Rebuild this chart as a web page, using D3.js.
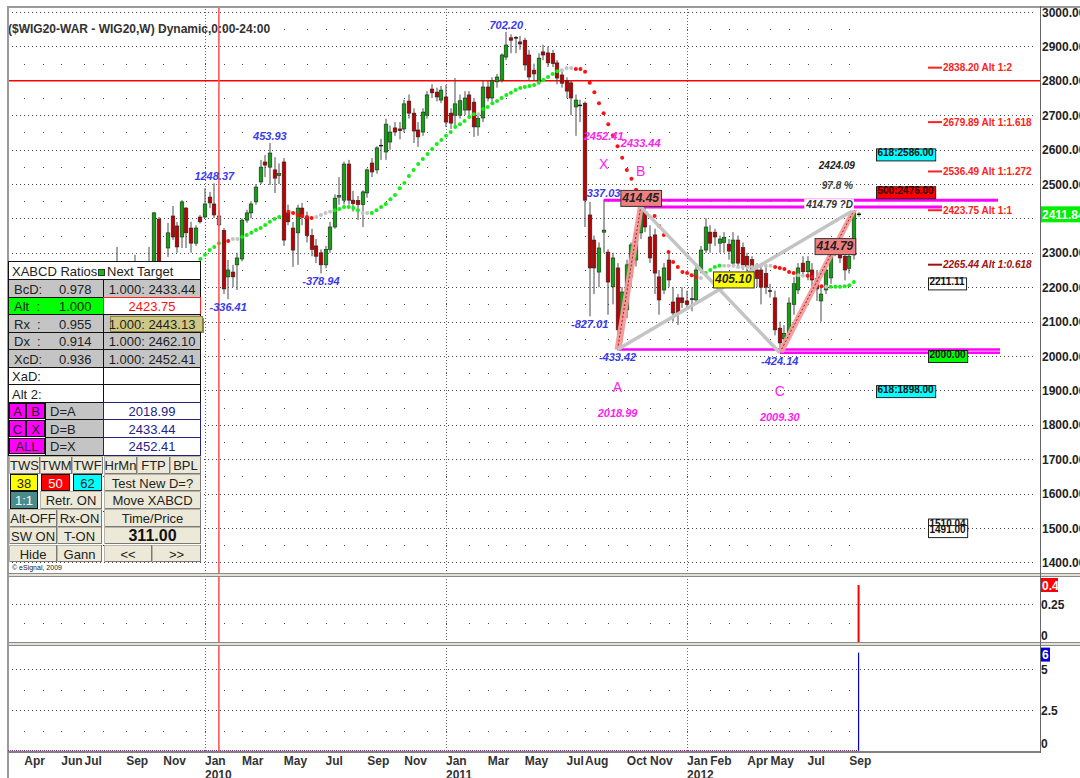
<!DOCTYPE html>
<html>
<head>
<meta charset="utf-8">
<script src="https://cdn.jsdelivr.net/npm/d3@7/dist/d3.min.js"></script>
<style>
html,body{margin:0;padding:0;background:#fff;overflow:hidden}
svg{display:block}
text{font-family:"Liberation Sans",Arial,Helvetica,sans-serif}
</style>
</head>
<body>
<svg id="c" width="1080" height="778"></svg>
<script>
// ---------------- DATA ----------------
const titleText = "($WIG20-WAR - WIG20,W) Dynamic,0:00-24:00";
const firstWeek = "2009-03-30"; // Monday of first weekly bar
const opens = [
1540,1600,1680,1650,1740,1770,1830,1780,1820,1870,
1830,1790,1760,1780,1750,1790,1890,1980,2020,2080,
2120,2180,2250,2180,2240,2230,2255,2200,2250,2260,
2398,2265,2314,2407,2378,2346,2430,2372,2328,2404,
2404,2462,2442,2407,2365,2230,2244,2265,2282,2395,
2416,2448,2506,2564,2549,2541,2525,2564,2416,2372,
2358,2430,2404,2350,2320,2300,2265,2310,2375,2462,
2453,2558,2453,2452,2440,2474,2561,2541,2610,2593,
2622,2663,2660,2660,2741,2706,2657,2651,2700,2776,
2767,2744,2753,2706,2700,2700,2715,2759,2738,2666,
2692,2782,2750,2797,2802,2869,2925,2926,2913,2918,
2875,2831,2797,2884,2881,2880,2852,2817,2800,2794,
2724,2730,2735,2410,2337,2244,2360,2302,2201,2256,
2113,2134,2230,2279,2358,2419,2346,2352,2230,2192,
2279,2157,2169,2169,2160,2165,2163,2250,2308,2360,
2360,2328,2330,2325,2270,2337,2315,2290,2280,2250,
2250,2240,2190,2169,2081,2050,2067,2150,2192,2270,
2245,2250,2225,2160,2192,2227,2317,2300,2290,2255,2294,2412];
const highs = [
1620,1700,1720,1760,1790,1850,1860,1840,1890,1900,
1850,1830,1800,1830,1800,1900,1990,2040,2100,2150,
2200,2317,2265,2260,2270,2294,2270,2265,2317,2419,
2404,2271,2387,2436,2390,2453,2433,2390,2380,2410,
2488,2477,2501.61,2425,2372,2279,2265,2300,2400,2425,
2450,2500,2570,2584,2619.13,2578,2560,2575,2440,2390,
2440,2445,2420,2370,2340,2310,2320,2390,2470,2520,
2565,2570,2480,2465,2482,2545,2575,2610,2631,2690,
2670,2680,2680,2745,2760,2720,2680,2720,2770,2790,
2780,2785,2788,2720,2808,2760,2770,2770,2750,2700,
2800,2800,2810,2820,2880,2942.39,2935,2930,2930,2925,
2890,2850,2880,2905,2900,2890,2860,2830,2810,2800,
2760,2745,2740,2448,2350,2330,2452.41,2310,2300,2270,
2200,2280,2330,2370,2433.44,2430,2380,2370,2250,2270,
2300,2200,2180,2200,2190,2200,2270,2320,2400,2380,
2370,2350,2360,2340,2360,2350,2330,2300,2290,2270,
2260,2260,2210,2190,2100,2090,2170,2230,2270,2290,
2290,2270,2250,2200,2260,2330,2330,2320,2300,2300,2424.09,2418];
const lows = [
1500,1580,1620,1640,1700,1750,1760,1740,1800,1810,
1760,1730,1700,1740,1720,1780,1870,1950,2000,2040,
2090,2160,2150,2120,2190,2200,2180,2170,2230,2250,
2260,2200,2288,2337,2300,2314,2314,2300,2320,2385,
2401,2430,2401,2372,2180,2165.2,2200,2192,2275,2387,
2400,2440,2500,2520,2497,2474,2500,2320,2380,2259,
2265,2380,2330,2290,2270,2240.19,2255,2300,2370,2440,
2440,2440,2420,2395,2375,2460,2520,2530,2570,2570,
2600,2640,2630,2650,2690,2619,2608,2640,2690,2750,
2740,2735,2666,2660,2666,2690,2700,2700,2637,2640,
2680,2740,2740,2780,2795,2860,2880,2880,2890,2830,
2800,2800,2790,2860,2840,2840,2790,2780,2750,2700,
2640,2680,2375,2115.38,2180,2200,2300,2120,2150,2018.99,
2040,2110,2200,2260,2340,2360,2270,2180,2120,2180,
2200,2100,2090,2140,2140,2130,2150,2240,2300,2300,
2320,2300,2300,2280,2260,2260,2250,2230,2220,2200,
2150,2180,2170,2060,2009.30,2020,2050,2120,2180,2230,
2220,2200,2160,2100,2180,2210,2290,2270,2220,2240,2280,2405];
const closes = [
1600,1680,1650,1740,1770,1830,1780,1820,1870,1830,
1790,1760,1780,1750,1790,1890,1980,2020,2080,2120,
2180,2250,2180,2240,2230,2255,2200,2250,2260,2416,
2268,2255,2358,2346,2317,2448,2358,2328,2372,2390,
2442,2445,2410,2381,2195,2250,2230,2285,2395,2416,
2442,2491,2549,2555,2590,2517,2530,2337,2390,2308,
2430,2404,2350,2310,2290,2265,2310,2375,2459,2466,
2558,2453,2443,2440,2477,2541,2535,2605,2613,2674,
2651,2651,2655,2733,2706,2654,2637,2709,2759,2765,
2753,2773,2680,2677,2733,2742,2750,2715,2666,2690,
2782,2750,2800,2811,2875,2904,2918,2924,2907,2846,
2811,2820,2866,2875,2852,2850,2808,2793,2770,2750,
2744,2727,2453,2256,2256,2314,2366,2215,2285,2076,
2186,2265,2323,2360,2419,2375,2285,2241,2163,2256,
2221,2125,2125,2155,2150,2166,2250,2308,2375,2328,
2346,2340,2345,2305,2337,2270,2265,2260,2245,2225,
2200,2200,2188,2076,2038,2066,2154,2210,2256,2245,
2275,2221,2195,2180,2250,2317,2300,2285,2250,2290,2416,2411.84];
const selectedWeek = "2010-01-25";

// trailing-stop dots (weekly, starting sarFirstWeek); state: g=green, r=red, n=neutral(gray), -=none
const sarFirstWeek = "2009-12-28";
const sarValues = [
2282,2294,2308,2317,2328,null,2334,2340,2340,2346,
2352,2358,2366,2372,2381,2390,2398,2404,null,2419,
2416,2410,2407,2404,2401,2404,2410,2416,2419,2424,
2427,2433,2433,2430,2424,2416,2416,2416,2424,2433,
2442,2456,2468,2488,2503,2523,2541,2558,2573,2587,
2602,2616,2628,2640,2651,2666,2674,2683,2695,2703,
2703,2718,2724,2735,2741,2750,2759,2765,2773,2779,
2782,2785,2788,2794,2802,2811,2820,2828,2831,2837,
2837,2834,2834,2826,2794,2767,2735,2706,2674,2642,
2610,2576,2541,2515,2483,null,null,null,2407,2378,
2352,2302,2273,2259,2244,2241,2235,2230,2227,2241,
2250,2259,2262,2262,2262,2262,2259,2259,2259,2259,
2262,2262,2262,2262,2259,2256,2253,2244,2241,2235,
2233,2233,2230,2218,2203,2201,2201,2201,2201,2203,2206,2215];
const sarStates = (
"ggggg-rnng"+"gggggggg-r"+"rrrrrnnnng"+"gggggnnggg"+"gggggggggg"+
"gggggggggg"+"nggggggggg"+"ggggggggnn"+"nrrrrrrrrr"+"rrrrr---rr"+
"rrrrrrrrng"+"gggnnnnnnn"+"nnnnrrrrrn"+"nrrrrngggggg").split("");

// swing annotations
const swingDates  = ["2010-01-18","2010-02-08","2010-04-12","2010-06-28","2011-04-04","2011-08-08","2011-08-29","2011-09-19","2012-05-21"];
const swingPrices = [2501.61,2165.20,2619.13,2240.19,2942.39,2115.38,2452.41,2018.99,2009.30];
const swingTexts  = ["1248.37","-336.41","453.93","-378.94","702.20","-827.01","337.03","-433.42","-424.14"];

// XABCD pattern
const patternNames  = ["X","A","B","C","D"];
const patternDates  = ["2011-08-29","2011-09-19","2011-10-24","2012-05-21","2012-09-10"];
const patternPrices = [2452.41,2018.99,2433.44,2009.30,2424.09];
const bcdPercent = "97.8 %";

// Alt targets
const altValues = [2838.20,2679.89,2536.49,2423.75,2265.44];
const altRatios = ["1:2","1:1.618","1:1.272","1:1","1:0.618"];

// level boxes
const levelValues = [2586,2476,2211.11,2000,1898,1510.04,1491];
const levelTexts  = ["618:2586.00","500:2476.00","2211.11","2000.00","618:1898.00","1510.04","1491.00"];
const levelFills  = ["#00ffff","#ff0000","#ffffff","#00ff00","#00ffff","#ffffff","#ffffff"];
const levelLeft   = [876,876,928,928,876,928,928];

const redLevels = [2800];
const priceTicks = [3000,2900,2800,2700,2600,2500,2400,2300,2200,2100,2000,1900,1800,1700,1600,1500,1400];
const priceMinor = [2950,2850,2750,2650,2550,2450,2350,2250,2150,2050,1950,1850,1750,1650,1550,1450];
const monthTicks = ["2009-04","2009-06","2009-07","2009-09","2009-11","2010-01","2010-03","2010-05","2010-07","2010-09","2010-11",
 "2011-01","2011-03","2011-05","2011-07","2011-08","2011-10","2011-11","2012-01","2012-02","2012-04","2012-05","2012-07","2012-09"];
const gridYears = [2010,2011,2012];

// lower indicator panels
const ind1Date = "2012-09-17", ind1Value = 0.4;
const ind2Date = "2012-09-17", ind2Value = 6;
const ind1Ticks = [0.25,0], ind1Minor = [0.1];
const ind2Ticks = [5,2.5,0], ind2Minor = [3.75,1.25];

// side table
const ratioNames  = ["BcD:","Alt  :","Rx  :","Dx  :","XcD:"];
const ratioValues = ["0.978","1.000","0.955","0.914","0.936"];
const ratioTargets= ["1.000: 2433.44","2423.75","1.000: 2443.13","1.000: 2462.10","1.000: 2452.41"];
const dRows = [["A","B","D=A","2018.99"],["C","X","D=B","2433.44"],["ALL",null,"D=X","2452.41"]];

// ---------------- SETUP ----------------
const svg = d3.select("#c");
const parse = d3.utcParse("%Y-%m-%d");
const t0 = parse(firstWeek);
const barDate = i => d3.utcMonday.offset(t0, i);
const L = 8, R = 1040, TOP = 6;
const x = d3.scaleUtc().domain([new Date(Date.UTC(2009,2,12,12)), new Date(Date.UTC(2013,5,18))]).range([L, R]);
const y = d3.scaleLinear().domain([1400,3000]).range([562.4,12]);
const y2 = d3.scaleLinear().domain([0,0.4]).range([635.7,585]);
const y3 = d3.scaleLinear().domain([0,6]).range([751,652.6]);
const cr = v => Math.round(v) + 0.5;

function T(g, px, py, s, o = {}) {
  return g.append("text").attr("x", px).attr("y", py).text(s)
    .attr("font-size", o.size || 12).attr("font-weight", o.weight || "normal")
    .attr("font-style", o.style || "normal").attr("fill", o.fill || "#222")
    .attr("text-anchor", o.anchor || "start").style("white-space", "pre");
}

svg.append("rect").attr("width",1080).attr("height",778).attr("fill","#fff");
svg.append("defs").append("clipPath").attr("id","mainclip").append("rect")
  .attr("x",L).attr("y",TOP).attr("width",R-L).attr("height",573-TOP);

// ---------------- GRID ----------------
const grid = svg.append("g").attr("shape-rendering","crispEdges");
const monthStarts = d3.utcMonth.range(parse("2009-04-01"), parse("2012-10-01")).map(m => d3.utcMonday.ceil(m));
function denseH(vals, sc) {
  grid.selectAll(null).data(vals).join("line")
    .attr("x1",L).attr("x2",1033).attr("y1",d=>cr(sc(d))).attr("y2",d=>cr(sc(d)))
    .attr("stroke","#444").attr("stroke-dasharray","1,3");
}
function sparseH(vals, sc) {
  vals.forEach(v => grid.selectAll(null).data(monthStarts).join("rect")
    .attr("x",d=>Math.round(x(d))).attr("y",Math.round(sc(v))).attr("width",1).attr("height",1).attr("fill","#444"));
}
denseH(priceTicks.filter(v => !redLevels.includes(v)), y); sparseH(priceMinor, y);
denseH([0.25], y2); sparseH(ind1Minor, y2);
denseH([5,2.5], y3); sparseH(ind2Minor, y3);
const yearStarts = gridYears.map(yr => d3.utcMonday.ceil(new Date(Date.UTC(yr,0,1))));
grid.selectAll(null).data(yearStarts).join("line")
  .attr("x1",d=>cr(x(d))).attr("x2",d=>cr(x(d))).attr("y1",TOP).attr("y2",753)
  .attr("stroke","#666").attr("stroke-dasharray","1,2");

// red level line
svg.selectAll(null).data(redLevels).join("line")
  .attr("x1",L).attr("x2",R).attr("y1",d=>y(d)).attr("y2",d=>y(d))
  .attr("stroke","#ff0000").attr("stroke-width",1.4);

// ---------------- CANDLES ----------------
const bars = opens.map((o,i) => ({d: barDate(i), o, h: highs[i], l: lows[i], c: closes[i]}));
const main = svg.append("g").attr("clip-path","url(#mainclip)");
const selD = parse(selectedWeek);
const cg = main.append("g");
cg.selectAll("line.w").data(bars).join("line").attr("class","w")
  .attr("x1",d=>cr(x(d.d))-0.5).attr("x2",d=>cr(x(d.d))-0.5)
  .attr("y1",d=>y(d.h)).attr("y2",d=>y(d.l))
  .attr("stroke",d=> +d.d === +selD ? "#30d8ff" : "#4a4a4a").attr("stroke-width",1);
cg.selectAll("rect.b").data(bars.filter(d=>Math.abs(y(d.o)-y(d.c))>=1.2)).join("rect").attr("class","b")
  .attr("x",d=>Math.round(x(d.d))-1.8).attr("width",3.6)
  .attr("y",d=>y(Math.max(d.o,d.c))).attr("height",d=>Math.abs(y(d.o)-y(d.c)))
  .attr("fill",d=> +d.d === +selD ? "#a8a8a8" : (d.c>=d.o ? "#13a013" : "#c00000"))
  .attr("stroke","#222").attr("stroke-width",0.6);
cg.selectAll("line.dj").data(bars.filter(d=>Math.abs(y(d.o)-y(d.c))<1.2)).join("line").attr("class","dj")
  .attr("x1",d=>Math.round(x(d.d))-2).attr("x2",d=>Math.round(x(d.d))+2)
  .attr("y1",d=>y((d.o+d.c)/2)).attr("y2",d=>y((d.o+d.c)/2)).attr("stroke","#111").attr("stroke-width",1.4);

// red vertical marker across all panels
svg.append("line").attr("x1",x(selD)).attr("x2",x(selD)).attr("y1",TOP).attr("y2",752)
  .attr("stroke","#ff5555").attr("stroke-width",1.6);

// ---------------- TRAILING DOTS ----------------
const sT0 = parse(sarFirstWeek);
const sar = sarValues.map((v,i)=>({d: d3.utcMonday.offset(sT0,i), v, s: sarStates[i]})).filter(p=>p.v!=null && p.s!=="-");
const sarColor = {g:"#14ee14", r:"#ff1010", n:"#c4c4c4"};
main.append("g").selectAll("circle").data(sar).join("circle")
  .attr("cx",d=>x(d.d)).attr("cy",d=>y(d.v)).attr("r",2).attr("fill",d=>sarColor[d.s]);

// ---------------- PATTERN ----------------
const P = patternNames.map((n,i)=>({n, d: parse(patternDates[i]), v: patternPrices[i]}));
P.forEach(p => { p.x = x(p.d); p.y = y(p.v); });
const [PX,PA,PB,PC,PD] = P;
const pat = main.append("g");
const magLines = [[PX, 998, 3],[PB, 942, 3],[PA, 1000, 2.5],[PC, 1000, 2.5]];
magLines.forEach(([p,x2,w]) => pat.append("line").attr("x1",p.x).attr("x2",x2).attr("y1",p.y).attr("y2",p.y)
  .attr("stroke","#ff00ff").attr("stroke-width",w));
[[PA,PB],[PC,PD]].forEach(([a,b]) => {
  pat.append("polygon").attr("points",[[a.x-3,a.y],[a.x+4,a.y],[b.x+3,b.y],[b.x-3,b.y]].map(p=>p.join(",")).join(" "))
    .attr("fill","#f49a9a").attr("opacity",0.95);
  pat.append("line").attr("x1",a.x).attr("y1",a.y).attr("x2",b.x).attr("y2",b.y)
    .attr("stroke","#a02020").attr("stroke-width",1).attr("stroke-dasharray","2,2");
});
[[PB,PC],[PA,PD]].forEach(([a,b]) => pat.append("line").attr("x1",a.x).attr("y1",a.y).attr("x2",b.x).attr("y2",b.y)
  .attr("stroke","#c4c4c4").attr("stroke-width",3.5));

function inter(p1,p2,p3,p4){
  const d=(p1.x-p2.x)*(p3.y-p4.y)-(p1.y-p2.y)*(p3.x-p4.x);
  const a=p1.x*p2.y-p1.y*p2.x, b=p3.x*p4.y-p3.y*p4.x;
  return {x:(a*(p3.x-p4.x)-(p1.x-p2.x)*b)/d, y:(a*(p3.y-p4.y)-(p1.y-p2.y)*b)/d};
}
const I = inter(PA,PD,PB,PC);

function box(g, cx, top, s, fill, o={}) {
  const t = T(g, 0, top + (o.h||16) - 4, s, {size:o.size||12, weight:"bold", style:o.style||"italic", fill:o.color||"#222", anchor:"middle"});
  const w = t.node().getComputedTextLength() + (o.pad||4);
  let left = o.left != null ? o.left : cx - w/2;
  t.attr("x", left + w/2);
  g.insert("rect", () => t.node()).attr("x",left+0.5).attr("y",top+0.5).attr("width",w).attr("height",o.h||16)
    .attr("fill",fill).attr("stroke",o.stroke||"#333").attr("stroke-width",1);
  return t;
}
const ann = svg.append("g");
box(ann, PB.x, PB.y-17, (PB.v-PA.v).toFixed(2), "#f08080");
box(ann, I.x+14, I.y-18, (PD.v-PA.v).toFixed(2), "#ffff00");
box(ann, PD.x-19, PD.y+28, (PD.v-PC.v).toFixed(2), "#f08080");

const dLab = T(ann, PD.x-1, PD.y-2, (PD.v-PC.v).toFixed(2)+" ?D", {size:10, weight:"bold", style:"italic", fill:"#333", anchor:"end"});
const bb = dLab.node().getBBox();
ann.insert("rect", () => dLab.node()).attr("x",bb.x-1).attr("y",bb.y).attr("width",bb.width+2).attr("height",bb.height).attr("fill","#fff");
T(ann, PD.x-1, PD.y-21, bcdPercent, {size:10, weight:"bold", style:"italic", fill:"#444", anchor:"end"});
T(ann, PD.x+1, PD.y-41, PD.v.toFixed(2), {size:10, weight:"bold", style:"italic", fill:"#222", anchor:"end"});

swingDates.forEach((ds,i) => {
  const sx = x(parse(ds)), sy = y(swingPrices[i]);
  const low = swingTexts[i].startsWith("-");
  T(ann, sx, low ? sy+12 : sy-3, swingTexts[i], {size:11, weight:"bold", style:"italic", fill:"#3a3af0", anchor:"middle"});
});

const MAG = "#ff22ee";
[PX,PB].forEach(p => {
  T(ann, p.x, p.y-60, p.v.toFixed(2), {size:11, weight:"bold", style:"italic", fill:MAG, anchor:"middle"});
  T(ann, p.x, p.y-31, p.n, {size:14, fill:MAG, anchor:"middle"});
});
[PA,PC].forEach(p => {
  T(ann, p.x, p.y+43, p.n, {size:14, fill:MAG, anchor:"middle"});
  T(ann, p.x, p.y+68, p.v.toFixed(2), {size:11, weight:"bold", style:"italic", fill:MAG, anchor:"middle"});
});

altValues.forEach((v,i) => {
  const last = i === altValues.length-1;
  const col = last ? "#a01010" : "#ff2020";
  ann.append("line").attr("x1",928).attr("x2",942).attr("y1",y(v)).attr("y2",y(v)).attr("stroke",col).attr("stroke-width",2);
  T(ann, 943, y(v)+3.5, v.toFixed(2)+" Alt "+altRatios[i], {size:10, weight:"bold", style: last?"italic":"normal", fill:col});
});

levelValues.forEach((v,i) => {
  box(ann, 0, y(v)-6, levelTexts[i], levelFills[i], {left:levelLeft[i], size:10, style:"normal", h:12, pad:3, stroke:"#222",
     color: i===1 ? "#300000" : "#111"});
});

T(svg, 8, 33, titleText, {size:12, weight:"bold", fill:"#333"});

// ---------------- FRAMES ----------------
const fr = svg.append("g").attr("shape-rendering","crispEdges");
[[573,577],[642,646]].forEach(([a,b]) => {
  fr.append("rect").attr("x",L).attr("y",a).attr("width",1080-L).attr("height",b-a).attr("fill","#e4e0d4");
  fr.append("line").attr("x1",L).attr("x2",1080).attr("y1",a+0.5).attr("y2",a+0.5).attr("stroke","#8a8a8a").attr("stroke-width",1.5);
  fr.append("line").attr("x1",L).attr("x2",1080).attr("y1",b-0.5).attr("y2",b-0.5).attr("stroke","#8a8a8a");
});
fr.append("line").attr("x1",L).attr("x2",1080).attr("y1",6.5).attr("y2",6.5).attr("stroke","#9a9a9a").attr("stroke-width",2);
fr.append("line").attr("x1",L-0.5).attr("x2",L-0.5).attr("y1",6).attr("y2",778).attr("stroke","#9a9a9a").attr("stroke-width",2);
fr.append("line").attr("x1",L).attr("x2",R+1).attr("y1",752).attr("y2",752).attr("stroke","#808080").attr("stroke-width",2);
fr.append("line").attr("x1",R+0.5).attr("x2",R+0.5).attr("y1",6).attr("y2",753).attr("stroke","#666");

const i1x = x(parse(ind1Date)), i2x = x(parse(ind2Date));
svg.append("line").attr("x1",i1x).attr("x2",i1x).attr("y1",y2(ind1Value)).attr("y2",642).attr("stroke","#ff0000").attr("stroke-width",2);
svg.append("line").attr("x1",i2x).attr("x2",i2x).attr("y1",y3(ind2Value)).attr("y2",751).attr("stroke","#0000cc").attr("stroke-width",1.2);
svg.append("line").attr("x1",L).attr("x2",i2x).attr("y1",750.5).attr("y2",750.5).attr("stroke","#3030ff").attr("stroke-dasharray","1,3");
svg.append("line").attr("x1",L+2).attr("x2",i2x).attr("y1",750.5).attr("y2",750.5).attr("stroke","#ff3030").attr("stroke-dasharray","1,3");

// ---------------- AXES ----------------
const ax = svg.append("g");
const lastPrice = closes[closes.length-1];
priceTicks.filter(v => Math.abs(y(v)-y(lastPrice)) > 12)
  .forEach(v => T(ax, 1042, y(v)+4.5, v.toFixed(2), {size:12, weight:"bold", fill:"#222"}));
ax.append("rect").attr("x",1041).attr("y",y(lastPrice)-8).attr("width",45).attr("height",16).attr("fill","#00ee00");
T(ax, 1042, y(lastPrice)+4.5, lastPrice.toFixed(2), {size:12, weight:"bold", fill:"#fff"});
ax.append("rect").attr("x",1041).attr("y",y2(ind1Value)-7).attr("width",17).attr("height",14).attr("fill","#ff0000");
T(ax, 1042, y2(ind1Value)+4.5, String(ind1Value), {size:12, weight:"bold", fill:"#fff"});
ind1Ticks.forEach(v => T(ax, 1041, y2(v)+4.5, String(v), {size:12, weight:"bold", fill:"#222"}));
ax.append("rect").attr("x",1041).attr("y",y3(ind2Value)-5).attr("width",9).attr("height",14).attr("fill","#0000dd");
T(ax, 1042, y3(ind2Value)+6.5, String(ind2Value), {size:12, weight:"bold", fill:"#fff"});
ind2Ticks.forEach(v => T(ax, 1041, (v===0 ? y3(v)-8 : y3(v))+4.5, String(v), {size:12, weight:"bold", fill:"#222"}));
const fmtM = d3.utcFormat("%b");
monthTicks.forEach(m => {
  const d = d3.utcMonday.ceil(parse(m+"-01"));
  const mo = parse(m+"-01");
  T(ax, x(d), 765, fmtM(mo), {size:12, weight:"bold", fill:"#333"});
  if (mo.getUTCMonth() === 0) T(ax, x(d), 779, String(mo.getUTCFullYear()), {size:12, weight:"bold", fill:"#333"});
});

// ---------------- SIDE TABLE ----------------
const tb = svg.append("g").attr("shape-rendering","crispEdges");
const tx0 = 8.5, tx1 = 200.5, tmid = 103.5;
tb.append("rect").attr("x",tx0).attr("y",261.5).attr("width",tx1-tx0).attr("height",194).attr("fill","#fff").attr("stroke","#111");
T(tb, 12, 276, "XABCD Ratios", {size:13, fill:"#222"});
tb.append("rect").attr("x",98.5).attr("y",269.5).attr("width",6).attr("height",6).attr("fill","#10c010").attr("stroke","#333");
T(tb, 107, 276, "Next Target", {size:13, fill:"#222"});
const rowY = i => 279.5 + i*17.55;
for (let i=0;i<5;i++){
  const ry = rowY(i);
  tb.append("rect").attr("x",tx0).attr("y",ry).attr("width",tmid-tx0).attr("height",17.55).attr("fill", i===1?"#00ff00":"#c4c4c4").attr("stroke","#111");
  tb.append("rect").attr("x",tmid).attr("y",ry).attr("width",tx1-tmid).attr("height",17.55).attr("fill", i===1?"#fff":"#c4c4c4").attr("stroke", i===1?"#ff2020":"#111");
  T(tb, 14, ry+14, ratioNames[i], {size:13, fill:"#222"});
  T(tb, 59, ry+14, ratioValues[i], {size:13, fill:"#222"});
  if (i===2) {
    tb.append("rect").attr("x",112).attr("y",ry+3).attr("width",92).attr("height",15).attr("fill","#8a8450");
    tb.append("rect").attr("x",110.5).attr("y",ry+1.5).attr("width",92).attr("height",15).attr("fill","#cfc884").attr("stroke","#8a8040");
  }
  T(tb, 152, ry+14, ratioTargets[i], {size:13, fill: i===1?"#ff1010":"#222", anchor:"middle"});
}
for (let i=5;i<7;i++){
  const ry = rowY(i);
  tb.append("rect").attr("x",tx0).attr("y",ry).attr("width",tmid-tx0).attr("height",17.55).attr("fill","#fff").attr("stroke","#111");
  tb.append("rect").attr("x",tmid).attr("y",ry).attr("width",tx1-tmid).attr("height",17.55).attr("fill","#fff").attr("stroke","#111");
  T(tb, 12, ry+14, i===5?"XaD:":"Alt 2:", {size:13, fill:"#222"});
}
dRows.forEach((r,j) => {
  const ry = rowY(7+j);
  if (r[1]) {
    tb.append("rect").attr("x",tx0+1).attr("y",ry+1).attr("width",16).attr("height",15.5).attr("fill","#ff00ff").attr("stroke","#111");
    tb.append("rect").attr("x",26.5).attr("y",ry+1).attr("width",18).attr("height",15.5).attr("fill","#ff00ff").attr("stroke","#111");
    T(tb, 17.5, ry+14, r[0], {size:13, fill:"#222", anchor:"middle"});
    T(tb, 35.5, ry+14, r[1], {size:13, fill:"#222", anchor:"middle"});
  } else {
    tb.append("rect").attr("x",tx0+1).attr("y",ry+1).attr("width",35).attr("height",15.5).attr("fill","#ff00ff").attr("stroke","#111");
    T(tb, 27, ry+14, r[0], {size:13, fill:"#222", anchor:"middle"});
  }
  tb.append("rect").attr("x",45.5).attr("y",ry).attr("width",tmid-45.5).attr("height",17.55).attr("fill","#c4c4c4").attr("stroke","#111");
  T(tb, 50, ry+14, r[2], {size:13, fill:"#222"});
  tb.append("rect").attr("x",tmid).attr("y",ry).attr("width",tx1-tmid).attr("height",17.55).attr("fill","#fff").attr("stroke","#202080");
  T(tb, 152, ry+14, r[3], {size:13, fill:"#22228a", anchor:"middle"});
});
const buttons = [
  [["TWS",9,40],["TWM",40,72],["TWF",72,103],["HrMn",104,137],["FTP",137,170],["BPL",170,201]],
  [["38",10,38,"#ffff00","#222"],["50",41,70,"#ff0000","#fff"],["62",73,102,"#00ffff","#222"],["Test New D=?",104,201]],
  [["1:1",10,38,"#4a8c8c","#fff"],["Retr. ON",40,102],["Move XABCD",104,201]],
  [["Alt-OFF",9,57],["Rx-ON",57,102],["Time/Price",104,201]],
  [["SW ON",9,57],["T-ON",57,102],["311.00",104,201,null,"#111",true]],
  [["Hide",9,57],["Gann",57,102],["<<",104,152],[">>",152,201]]
];
buttons.forEach((row,j) => {
  const by = 456.5 + j*17.7;
  row.forEach(([s,a,b,fill,col,big]) => {
    tb.append("rect").attr("x",a+0.5).attr("y",by).attr("width",b-a-1).attr("height",16.5)
      .attr("fill", fill || "#ece9d8").attr("stroke", fill ? "#111" : "#b8b4a8");
    if (!fill) {
      tb.append("line").attr("x1",a+1).attr("x2",b-0.5).attr("y1",by+16.5).attr("y2",by+16.5).attr("stroke","#7a7a7a");
      tb.append("line").attr("x1",b-0.5).attr("x2",b-0.5).attr("y1",by).attr("y2",by+16.5).attr("stroke","#7a7a7a");
    }
    T(tb, (a+b)/2, by+13.5, s, {size: big?16:13, weight: big?"bold":"normal", fill: col || "#222", anchor:"middle"});
  });
});
tb.append("rect").attr("x",tx0).attr("y",562.5).attr("width",tx1-tx0).attr("height",9).attr("fill","#fff");
T(tb, 12, 570, "\u00a9 eSignal, 2009", {size:7, fill:"#222"});
</script>
</body>
</html>
